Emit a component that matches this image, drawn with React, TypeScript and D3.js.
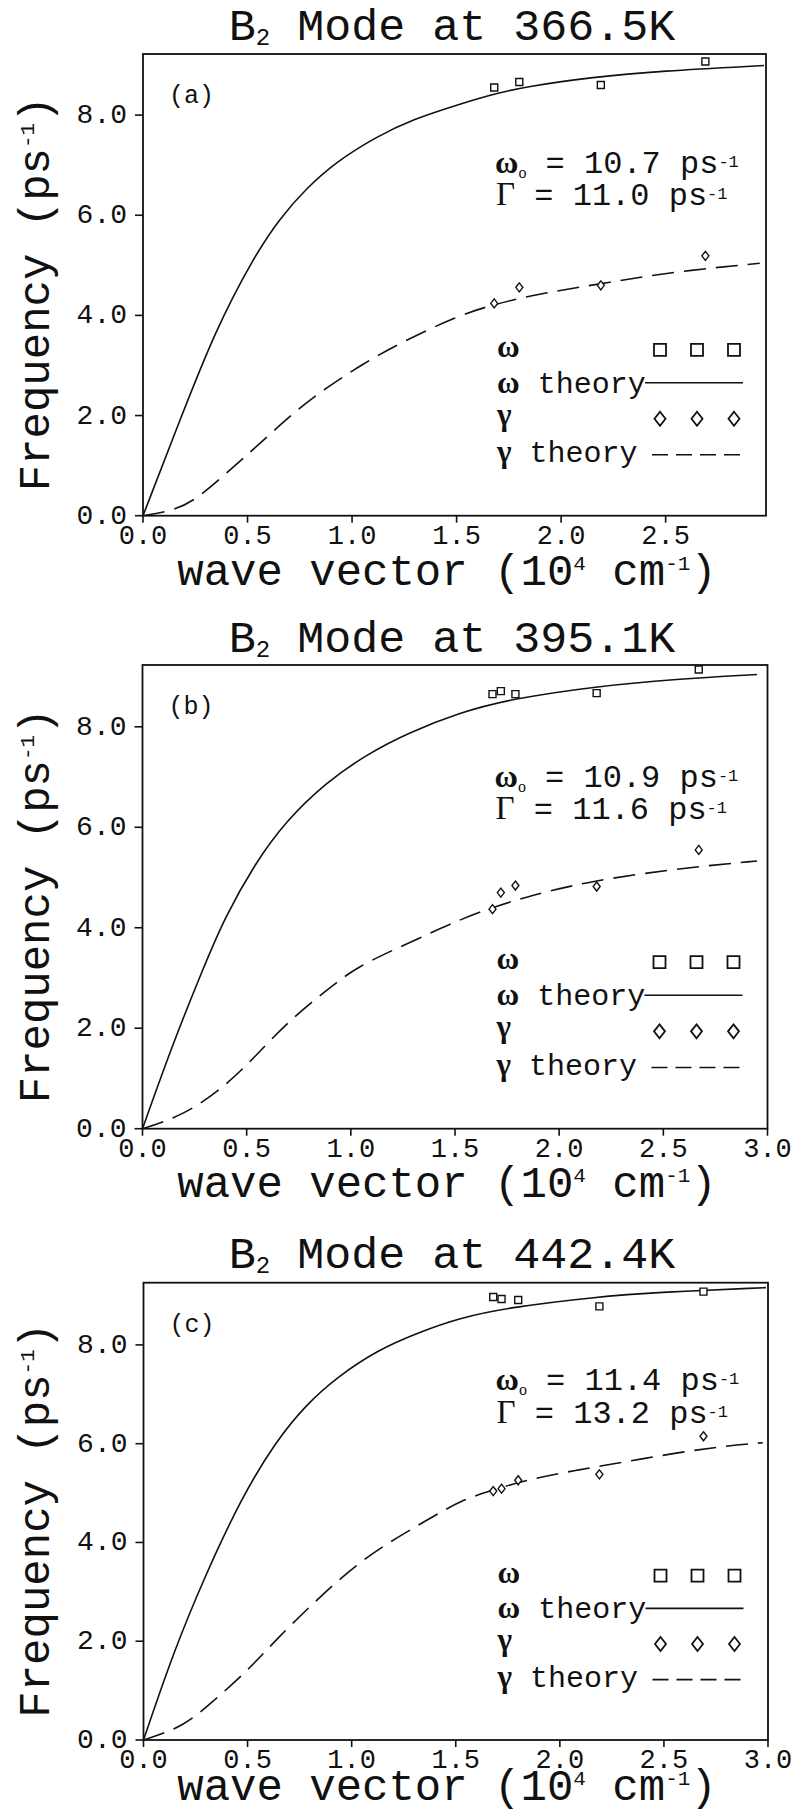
import React from "react";
import * as d3 from "d3";

// ---- text content ----
const PANEL_TAGS = ["(a)", "(b)", "(c)"];
const TEMPERATURES = ["366.5K", "395.1K", "442.4K"];
const OMEGA_ZERO = ["10.7", "10.9", "11.4"];
const GAMMA_FIT = ["11.0", "11.6", "13.2"];
const Y_TICKS = [0, 2, 4, 6, 8];
const X_TICKS_A = [0, 0.5, 1.0, 1.5, 2.0, 2.5];
const X_TICKS_BC = [0, 0.5, 1.0, 1.5, 2.0, 2.5, 3.0];

// ---- measured frequencies (wave vector in 10^4 cm^-1, frequency in ps^-1) ----
const Q_A = [1.68, 1.8, 2.19, 2.69];
const OMEGA_A = [8.55, 8.66, 8.6, 9.07];
const GAMMA_A = [4.24, 4.56, 4.6, 5.19];

const Q_B = [1.68, 1.72, 1.79, 2.18, 2.67];
const OMEGA_B = [8.65, 8.71, 8.65, 8.67, 9.14];
const GAMMA_B = [4.37, 4.7, 4.84, 4.82, 5.55];

const Q_C = [1.68, 1.72, 1.8, 2.19, 2.69];
const OMEGA_C = [8.97, 8.93, 8.91, 8.78, 9.08];
const GAMMA_C = [5.04, 5.09, 5.26, 5.38, 6.15];

// ---- theory curves ----
const TQ_OMEGA_A = [0, 0.184, 0.344, 0.526, 0.654, 0.782, 0.925, 1.117, 1.292, 1.515, 1.675, 1.834, 2.153, 2.472, 2.97];
const T_OMEGA_A = [0, 1.99, 3.68, 5.14, 5.94, 6.54, 7.07, 7.57, 7.92, 8.22, 8.42, 8.57, 8.76, 8.88, 8.99];
const TQ_GAMMA_A = [0, 0.16, 0.271, 0.399, 0.543, 0.718, 0.861, 1.053, 1.244, 1.5, 1.675, 1.914, 2.233, 2.552, 2.95];
const T_GAMMA_A = [0, 0.11, 0.38, 0.85, 1.38, 2.05, 2.51, 3.04, 3.48, 3.98, 4.22, 4.45, 4.66, 4.88, 5.04];

const TQ_OMEGA_B = [0, 0.148, 0.295, 0.394, 0.54, 0.687, 0.883, 1.08, 1.276, 1.52, 1.764, 2.165, 2.566, 2.95];
const T_OMEGA_B = [0, 1.72, 3.23, 4.2, 5.28, 6.12, 6.9, 7.46, 7.88, 8.28, 8.55, 8.8, 8.95, 9.04];
const TQ_GAMMA_B = [0, 0.2, 0.395, 0.54, 0.69, 0.884, 1.03, 1.275, 1.52, 1.69, 1.85, 2.0, 2.17, 2.4, 2.67, 2.95];
const T_GAMMA_B = [0, 0.27, 0.84, 1.43, 2.1, 2.76, 3.23, 3.69, 4.16, 4.42, 4.62, 4.78, 4.93, 5.08, 5.22, 5.33];

const TQ_OMEGA_C = [0, 0.146, 0.293, 0.47, 0.636, 0.783, 0.93, 1.126, 1.32, 1.52, 1.76, 2.165, 2.485, 2.99];
const T_OMEGA_C = [0, 1.8, 3.3, 4.9, 6.05, 6.8, 7.35, 7.9, 8.25, 8.55, 8.76, 8.97, 9.07, 9.16];
const TQ_GAMMA_C = [0, 0.195, 0.34, 0.488, 0.636, 0.832, 1.028, 1.224, 1.395, 1.524, 1.684, 1.845, 2.085, 2.325, 2.566, 2.806, 2.975];
const T_GAMMA_C = [0, 0.27, 0.81, 1.35, 2.03, 2.84, 3.58, 4.12, 4.53, 4.85, 5.07, 5.27, 5.47, 5.64, 5.82, 5.96, 6.02];

const zip = (a: number[], b: number[]): [number, number][] => a.map((v, i) => [v, b[i]]);

const PANELS = [
  {
    tag: PANEL_TAGS[0], temp: TEMPERATURES[0], w0: OMEGA_ZERO[0], g0: GAMMA_FIT[0],
    q: Q_A, omega: OMEGA_A, gamma: GAMMA_A,
    omegaTheory: zip(TQ_OMEGA_A, T_OMEGA_A), gammaTheory: zip(TQ_GAMMA_A, T_GAMMA_A),
    xTicks: X_TICKS_A, xMax: 2.98,
    left: 143, right: 766, top: 54, bottom: 515.7, yMax: 9.22,
    titleY: 40, xLabelY: 585, annot: [6.84, 6.2],
  },
  {
    tag: PANEL_TAGS[1], temp: TEMPERATURES[1], w0: OMEGA_ZERO[1], g0: GAMMA_FIT[1],
    q: Q_B, omega: OMEGA_B, gamma: GAMMA_B,
    omegaTheory: zip(TQ_OMEGA_B, T_OMEGA_B), gammaTheory: zip(TQ_GAMMA_B, T_GAMMA_B),
    xTicks: X_TICKS_BC, xMax: 3.0,
    left: 142.5, right: 767.5, top: 665, bottom: 1128.7, yMax: 9.23,
    titleY: 652, xLabelY: 1197, annot: [6.81, 6.16],
  },
  {
    tag: PANEL_TAGS[2], temp: TEMPERATURES[2], w0: OMEGA_ZERO[2], g0: GAMMA_FIT[2],
    q: Q_C, omega: OMEGA_C, gamma: GAMMA_C,
    omegaTheory: zip(TQ_OMEGA_C, T_OMEGA_C), gammaTheory: zip(TQ_GAMMA_C, T_GAMMA_C),
    xTicks: X_TICKS_BC, xMax: 3.0,
    left: 143.5, right: 768, top: 1282.7, bottom: 1740, yMax: 9.26,
    titleY: 1268, xLabelY: 1800, annot: [7.09, 6.41],
  },
];

const MONO = "'Liberation Mono', 'Courier New', monospace";
const SERIF = "'Liberation Serif', 'Times New Roman', serif";
const INK = "#111";

const squarePath = (cx: number, cy: number, s: number) =>
  `M${cx - s / 2},${cy - s / 2}h${s}v${s}h${-s}Z`;
const diamondPath = (cx: number, cy: number, w: number, h: number) =>
  `M${cx},${cy - h / 2}L${cx + w / 2},${cy}L${cx},${cy + h / 2}L${cx - w / 2},${cy}Z`;

function Panel({ p }: { p: (typeof PANELS)[number] }) {
  const x = d3.scaleLinear().domain([0, p.xMax]).range([p.left, p.right]);
  const y = d3.scaleLinear().domain([0, p.yMax]).range([p.bottom, p.top]);
  const line = d3
    .line<[number, number]>()
    .x((d) => x(d[0]))
    .y((d) => y(d[1]))
    .curve(d3.curveBasis);

  const ky = (p.bottom - p.top) / 462; // vertical compression relative to the first panel
  const legX = p.left + 354;
  const symX = [p.left + 517, p.left + 554, p.left + 591];
  const rowSym = [166, 133, 97, 61].map((d) => p.bottom - d * ky);
  const rowTxt = [159, 123, 91, 54].map((d) => p.bottom - d * ky);
  const yLabelCenter = p.bottom - 222 * ky;

  return (
    <g>
      {/* title */}
      <text x={452} y={p.titleY} fontFamily={MONO} fontSize={45} textAnchor="middle" fill={INK}>
        B<tspan fontSize={24} dy={5}>2</tspan>
        <tspan dy={-5}> Mode at {p.temp}</tspan>
      </text>

      {/* frame */}
      <rect x={p.left} y={p.top} width={p.right - p.left} height={p.bottom - p.top}
        fill="none" stroke={INK} strokeWidth={1.8} />

      {/* y axis ticks */}
      {Y_TICKS.map((t) => (
        <g key={"y" + t}>
          <line x1={p.left - 8} x2={p.left} y1={y(t)} y2={y(t)} stroke={INK} strokeWidth={1.6} />
          <text x={p.left - 16} y={y(t) + 8} fontFamily={MONO} fontSize={28} textAnchor="end" fill={INK}>
            {d3.format(".1f")(t)}
          </text>
        </g>
      ))}

      {/* x axis ticks */}
      {p.xTicks.map((t) => (
        <g key={"x" + t}>
          <line x1={x(t)} x2={x(t)} y1={p.bottom} y2={p.bottom + 7} stroke={INK} strokeWidth={1.6} />
          <text x={x(t)} y={p.bottom + 28} fontFamily={MONO} fontSize={27} textAnchor="middle" fill={INK}>
            {d3.format(".1f")(t)}
          </text>
        </g>
      ))}

      {/* axis titles */}
      <text x={447} y={p.xLabelY} fontFamily={MONO} fontSize={44} textAnchor="middle" fill={INK}>
        wave vector (10<tspan fontSize={21} dy={-15}>4</tspan>
        <tspan dy={15}> cm</tspan>
        <tspan fontSize={21} dy={-15}>-1</tspan>
        <tspan dy={15}>)</tspan>
      </text>
      <text transform={`translate(49,${yLabelCenter}) rotate(-90)`} fontFamily={MONO} fontSize={44}
        textAnchor="middle" fill={INK}>
        Frequency (ps<tspan fontSize={21} dy={-15}>-1</tspan>
        <tspan dy={15}>)</tspan>
      </text>

      {/* panel tag */}
      <text x={p.left + 26} y={p.top + 49} fontFamily={MONO} fontSize={25} fill={INK}>{p.tag}</text>

      {/* fit parameters */}
      <text x={p.left + 352} y={y(p.annot[0])} fontFamily={MONO} fontSize={32} fill={INK}>
        <tspan fontFamily={SERIF} fontWeight="bold" fontSize={32}>ω</tspan>
        <tspan fontFamily={SERIF} fontSize={16} dy={5}>o</tspan>
        <tspan dy={-5}> = {p.w0} ps</tspan>
        <tspan fontSize={17} dy={-6}>-1</tspan>
      </text>
      <text x={p.left + 353} y={y(p.annot[1])} fontFamily={MONO} fontSize={32} fill={INK}>
        <tspan fontFamily={SERIF} fontSize={33}>Γ</tspan>
        <tspan> = {p.g0} ps</tspan>
        <tspan fontSize={17} dy={-6}>-1</tspan>
      </text>

      {/* theory curves */}
      <path d={line(p.omegaTheory) ?? ""} fill="none" stroke={INK} strokeWidth={1.6} />
      <path d={line(p.gammaTheory) ?? ""} fill="none" stroke={INK} strokeWidth={1.6} strokeDasharray="22 10" />

      {/* measured points */}
      {p.q.map((q, i) => (
        <path key={"s" + i} d={squarePath(x(q), y(p.omega[i]), 7)} fill="white" stroke={INK} strokeWidth={1.4} />
      ))}
      {p.q.map((q, i) => (
        <path key={"d" + i} d={diamondPath(x(q), y(p.gamma[i]), 7, 9)} fill="white" stroke={INK} strokeWidth={1.4} />
      ))}

      {/* legend */}
      <text x={legX} y={rowTxt[0]} fontFamily={SERIF} fontWeight="bold" fontSize={31} fill={INK}>ω</text>
      {symX.map((sx, i) => (
        <path key={"ls" + i} d={squarePath(sx, rowSym[0], 12)} fill="none" stroke={INK} strokeWidth={1.8} />
      ))}
      <text x={legX} y={rowTxt[1]} fontFamily={MONO} fontSize={30} fill={INK}>
        <tspan fontFamily={SERIF} fontWeight="bold" fontSize={31}>ω</tspan> theory
      </text>
      <line x1={p.left + 502} x2={p.left + 600} y1={rowSym[1]} y2={rowSym[1]} stroke={INK} strokeWidth={1.6} />
      <text x={legX} y={rowTxt[2]} fontFamily={SERIF} fontWeight="bold" fontSize={31} fill={INK}>γ</text>
      {symX.map((sx, i) => (
        <path key={"ld" + i} d={diamondPath(sx, rowSym[2], 11, 14)} fill="none" stroke={INK} strokeWidth={1.8} />
      ))}
      <text x={legX} y={rowTxt[3]} fontFamily={MONO} fontSize={30} fill={INK}>
        <tspan fontFamily={SERIF} fontWeight="bold" fontSize={31}>γ</tspan> theory
      </text>
      <line x1={p.left + 509} x2={p.left + 597} y1={rowSym[3]} y2={rowSym[3]} stroke={INK} strokeWidth={1.6}
        strokeDasharray="16 8" />
    </g>
  );
}

export default function App() {
  return (
    <svg width={795} height={1814} viewBox="0 0 795 1814"
      style={{ position: "absolute", left: 0, top: 0, display: "block", background: "white" }}>
      <rect width={795} height={1814} fill="white" />
      {PANELS.map((p) => (
        <Panel key={p.tag} p={p} />
      ))}
    </svg>
  );
}
